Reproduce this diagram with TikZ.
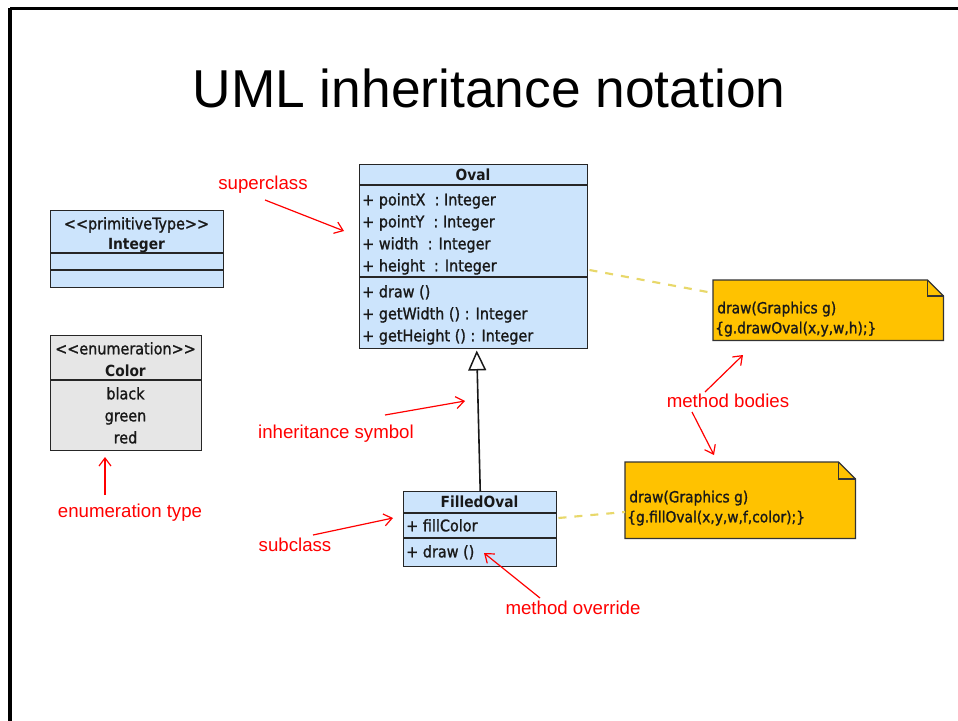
\documentclass[tikz,border=0pt]{standalone}
\usepackage{fontspec}
\setmainfont{Liberation Sans}
\newfontfamily\umlfont[RawFeature={embolden=1.2}]{DejaVu Sans Condensed}
\newfontfamily\umlbold{DejaVu Sans Condensed Bold}
\usetikzlibrary{arrows.meta,calc}

\definecolor{umlblue}{HTML}{CCE4FC}
\definecolor{umlgray}{HTML}{E6E6E6}
\definecolor{notefill}{HTML}{FFC200}
\definecolor{notedash}{HTML}{E8D86A}
\definecolor{calloutred}{HTML}{FF0000}

\tikzset{
  umlbox/.style={draw=black!85, line width=1.1pt, fill=umlblue, inner sep=0pt,
                 anchor=north west},
  sepline/.style={draw=black!85, line width=1.1pt},
  row/.style={anchor=west, inner sep=0pt, text=black!90,
              text height=10pt, text depth=2pt,
              font=\umlfont\fontsize{12}{14}\selectfont},
  crow/.style={row, anchor=center},
  hrow/.style={row, anchor=center, font=\umlbold\fontsize{11.5}{14}\selectfont},
  notebox/.style={inner sep=0pt, anchor=north west},
  notetext/.style={row, font=\umlfont\fontsize{11.5}{14}\selectfont},
  notelink/.style={notedash, line width=1.6pt, dash pattern=on 6pt off 6pt},
  callout/.style={calloutred, line width=0.9pt,
                  -{Straight Barb[length=6pt,width=9pt]}},
  calloutlabel/.style={text=calloutred, inner sep=0pt,
                       font=\fontsize{14}{16}\selectfont},
  generalization/.style={black!90, line width=1.2pt,
                         -{Triangle[open,length=15pt,width=13.5pt,line width=1.1pt]}}
}

\begin{document}
\begin{tikzpicture}[x=0.75pt,y=-0.75pt]
\useasboundingbox (0,0) rectangle (958,721);
\clip (0,0) rectangle (958,721);
\fill[white] (0,0) rectangle (958,721);

% slide frame
\draw[line width=2.3pt] (10,8.5) -- (1000,8.5);
\draw[line width=2.3pt] (10,7.5) -- (10,760);

% title
\node (title) at (489,88) {\fontsize{40}{46}\selectfont UML inheritance notation};

% ---- class Oval ----
\node (oval) [umlbox, minimum width=171pt, minimum height=138pt] at (359,164) {};
\draw[sepline] (359,185) -- (587,185);
\draw[sepline] (359,277) -- (587,277);
\node (ovalname) [hrow] at (473,175) {Oval};
\node (ovalA1) [row] at (362,200) {+ pointX\ \ : Integer};
\node (ovalA2) [row] at (362,222) {+ pointY\ \ : Integer};
\node (ovalA3) [row] at (362,244) {+ width\ \ : Integer};
\node (ovalA4) [row] at (362,266) {+ height\ \ : Integer};
\node (ovalM1) [row] at (362,292) {+ draw ()};
\node (ovalM2) [row] at (362,314) {+ getWidth () : Integer};
\node (ovalM3) [row] at (362,336) {+ getHeight () : Integer};

% ---- primitive type Integer ----
\node (intbox) [umlbox, minimum width=129.75pt, minimum height=57.75pt] at (50,210) {};
\draw[sepline] (50,253) -- (223,253);
\draw[sepline] (50,270) -- (223,270);
\node (intstereo) [crow] at (136.5,224) {<<primitiveType>>};
\node (intname) [hrow] at (136.5,244) {Integer};

% ---- enumeration Color ----
\node (colorbox) [umlbox, fill=umlgray, minimum width=113.25pt, minimum height=86.25pt] at (50,335) {};
\draw[sepline] (50,380) -- (201,380);
\node (colstereo) [crow] at (125.5,349) {<<enumeration>>};
\node (colname) [hrow] at (125.5,371) {Color};
\node (colblack) [crow] at (125.5,394) {black};
\node (colgreen) [crow] at (125.5,416) {green};
\node (colred) [crow] at (125.5,438) {red};

% ---- class FilledOval ----
\node (filled) [umlbox, minimum width=114.75pt, minimum height=56.25pt] at (403,491) {};
\draw[sepline] (403,513) -- (556,513);
\draw[sepline] (403,538) -- (556,538);
\node (filledname) [hrow] at (479.5,502) {FilledOval};
\node (filledA1) [row] at (406,526) {+ fillColor};
\node (filledM1) [row] at (406,552) {+ draw ()};

% generalization FilledOval -> Oval
\coordinate (genTip) at ($(oval.south)+(3,1)$);
\draw[generalization] (filled.north) -- (genTip);

% ---- notes with method bodies ----
\node (note1) [notebox, minimum width=172.5pt, minimum height=45pt] at (713,280) {};
\fill[notefill, draw=black!80, line width=0.9pt]
  (note1.south west) -- (note1.north west) -- ($(note1.north east)+(-16,0)$)
  -- ($(note1.north east)+(0,16)$) -- (note1.south east) -- cycle;
\draw[black!80, line width=0.9pt]
  ($(note1.north east)+(-16,0)$) -- ($(note1.north east)+(-16,16)$) -- ($(note1.north east)+(0,16)$);
\node (note1L1) [notetext] at (717,308) {draw(Graphics g)};
\node (note1L2) [notetext] at (715,328) {\{g.drawOval(x,y,w,h);\}};

\node (note2) [notebox, minimum width=172.5pt, minimum height=57pt] at (625,462) {};
\fill[notefill, draw=black!80, line width=0.9pt]
  (note2.south west) -- (note2.north west) -- ($(note2.north east)+(-17,0)$)
  -- ($(note2.north east)+(0,17)$) -- (note2.south east) -- cycle;
\draw[black!80, line width=0.9pt]
  ($(note2.north east)+(-17,0)$) -- ($(note2.north east)+(-17,17)$) -- ($(note2.north east)+(0,17)$);
\node (note2L1) [notetext] at (629,497) {draw(Graphics g)};
\node (note2L2) [notetext] at (627,517) {\{g.fillOval(x,y,w,f,color);\}};

% note links
\draw[notelink] ($(oval.north east)+(1,106)$) -- ($(note1.north west)+(0,13)$);
\draw[notelink] ($(filled.north east)+(1,27)$) -- ($(note2.north west)+(0,50)$);

% ---- red callouts ----
\node (lblsuper) [calloutlabel] at (263,185) {superclass};
\node (lblinh) [calloutlabel] at (336,434) {inheritance symbol};
\node (lblsub) [calloutlabel] at (295,545) {subclass};
\node (lbloverride) [calloutlabel] at (573,608) {method override};
\node (lblbodies) [calloutlabel] at (728,401) {method bodies};
\node (lblenum) [calloutlabel] at (130,513) {enumeration type};

\coordinate (tipSuper) at (344,231);
\coordinate (tipInh) at (465,401);
\coordinate (tipSub) at (393,518);
\coordinate (tipOverride) at (484,553);
\coordinate (tipBodies1) at (743,355);
\coordinate (tipBodies2) at (714,455);
\coordinate (tipEnum) at (105,457);

\draw[callout] (265,200) -- (tipSuper);
\draw[callout] (385,415) -- (tipInh);
\draw[callout] (313,535) -- (tipSub);
\draw[callout] (540,598) -- (tipOverride);
\draw[callout] (705,392) -- (tipBodies1);
\draw[callout] (692,412) -- (tipBodies2);
\draw[callout] (105,495) -- (tipEnum);
\end{tikzpicture}
\end{document}
